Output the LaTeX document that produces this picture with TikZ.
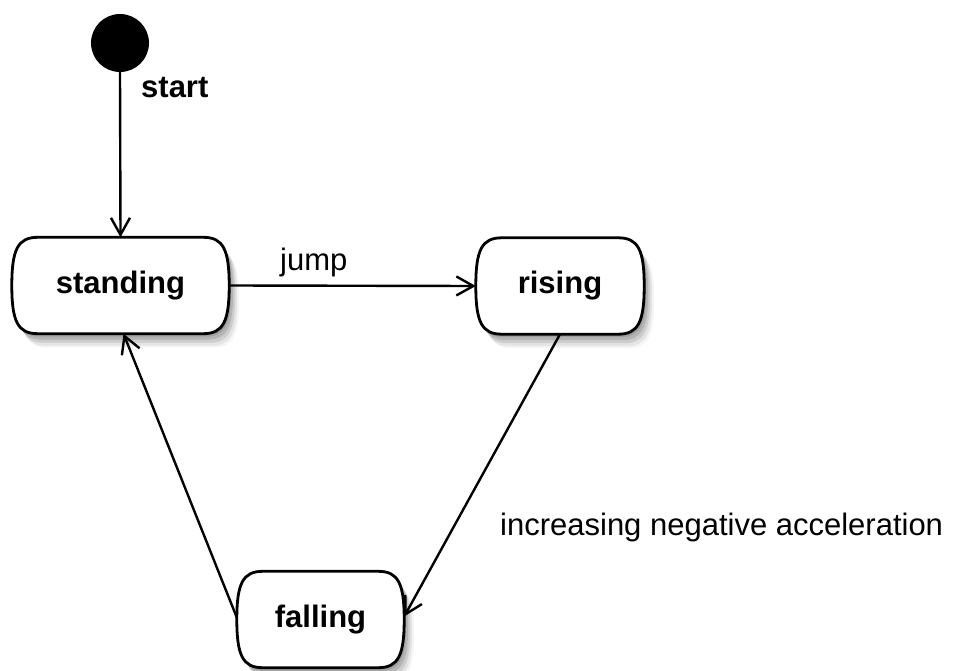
\documentclass[tikz,border=0pt]{standalone}
\usepackage{fontspec}
\setmainfont{Liberation Sans}
\usetikzlibrary{arrows.meta,calc}
\pgfdeclarelayer{background}
\pgfsetlayers{background,main}
\newcommand\statepath[1]{%
 ($(#1.north west)+(26,0)$) -- ($(#1.north east)+(-26,0)$)
 .. controls ($(#1.north east)+(-6,0)$) and ($(#1.east)+(0,36)$) .. (#1.east)
 .. controls ($(#1.east)+(0,-36)$) and ($(#1.south east)+(-6,0)$) .. ($(#1.south east)+(-26,0)$)
 -- ($(#1.south west)+(26,0)$)
 .. controls ($(#1.south west)+(6,0)$) and ($(#1.west)+(0,-36)$) .. (#1.west)
 .. controls ($(#1.west)+(0,36)$) and ($(#1.north west)+(6,0)$) .. cycle}
\newcommand\stateoutline[1]{%
 \begin{pgfonlayer}{background}
  \fill[black,opacity=0.12,transform canvas={xshift=2pt,yshift=-3pt}] \statepath{#1};
  \fill[black,opacity=0.12,transform canvas={xshift=4pt,yshift=-6pt}] \statepath{#1};
  \fill[black,opacity=0.10,transform canvas={xshift=6pt,yshift=-9pt}] \statepath{#1};
  \fill[black,opacity=0.07,transform canvas={xshift=8pt,yshift=-12pt}] \statepath{#1};
  \fill[black,opacity=0.04,transform canvas={xshift=10pt,yshift=-14pt}] \statepath{#1};
  \filldraw[fill=white,draw=black,line width=2.8pt] \statepath{#1};
 \end{pgfonlayer}}
\tikzset{
 x=1pt,y=1pt,
 every node/.style={font=\fontsize{31}{36}\selectfont},
 statebox/.style={draw=none,inner sep=0pt,minimum height=96pt,font=\fontsize{31}{36}\selectfont\bfseries},
 trans/.style={line width=2.4pt,-{Straight Barb[length=17pt,width=19pt,line width=2.4pt]}},
 lbl/.style={inner sep=0pt,anchor=base west}
}
\begin{document}
\begin{tikzpicture}
\useasboundingbox (0,0) rectangle (968,-671);
\node[circle,fill=black,minimum size=58pt,inner sep=0pt] (start) at (120,-43) {};
\node[lbl,font=\fontsize{31}{36}\selectfont\bfseries] (startlbl) at (141,-98) {start};
\node[statebox,minimum width=217pt] (standing) at (120.5,-285.5) {standing};
\node[statebox,minimum width=168pt] (rising) at (560,-286) {rising};
\node[statebox,minimum width=167pt] (falling) at (320.5,-619.5) {falling};
\stateoutline{standing}
\stateoutline{rising}
\stateoutline{falling}
\draw[trans] (start.south) -- (standing.north);
\draw[trans] (standing.east) -- (rising.west);
\draw[trans] (rising.south) -- ([yshift=3pt]falling.east);
\draw[trans] ([yshift=2pt]falling.west) -- ([xshift=3pt]standing.south);
\node[lbl] (jump) at (280,-270) {jump};
\node[lbl] (accel) at (500,-535) {increasing negative acceleration};
\end{tikzpicture}
\end{document}
